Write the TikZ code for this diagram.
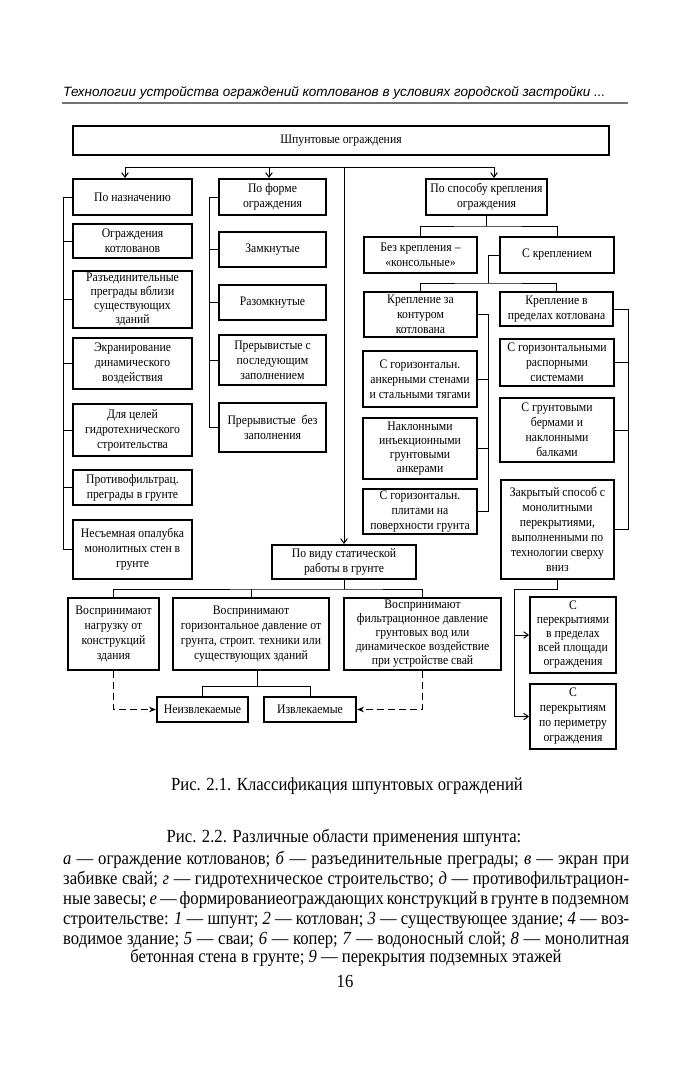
\documentclass[tikz,border=0pt]{standalone}
\usepackage{fontspec}
\setmainfont{Liberation Serif}[FakeStretch=0.9]
\newfontfamily\hdrfont{Liberation Sans}
\usetikzlibrary{arrows.meta,positioning}

\newcommand{\boxfont}{\fontsize{13}{15}\selectfont}
\newcommand{\capfont}{\fontsize{18.5}{20}\selectfont}

\begin{document}
\begin{tikzpicture}[x=1pt, y=-1pt,
  box/.style={draw, line width=2pt, align=center, font=\boxfont, inner sep=1pt},
  tight/.style={font=\fontsize{13}{14}\selectfont},
  colA/.style={box, minimum width=119pt},
  colB/.style={box, minimum width=107pt},
  colC/.style={box, minimum width=114pt},
  ln/.style={line width=1pt},
  ar/.style={ln, -{Straight Barb[length=4.5pt,width=6.5pt]}},
  dar/.style={ln, dash pattern=on 7pt off 4pt, -{Stealth[length=7pt,width=5.5pt]}},
]
\useasboundingbox[fill=white] (0,0) rectangle (691,1080);

% running head
\node[font={\hdrfont\itshape\fontsize{13.5}{16}\selectfont}, anchor=west, inner sep=0] (hdr) at (63,93)
  {Технологии устройства ограждений котлованов в условиях городской застройки ...};
\draw[black!55, line width=1.4pt] (62,103) -- (628,103);

\node[box, minimum width=536pt, minimum height=29pt] (root) at (341,140.5) {Шпунтовые ограждения};

% by purpose
\node[colA, minimum height=36pt] (naz) at (132.5,197) {По назначению};
\node[colA, minimum height=34pt] (ogr) at (132.5,241) {Ограждения\\котлованов};
\node[colA, tight, minimum height=57pt] (razd) at (132.5,299.5) {Разъединительные\\преграды вблизи\\существующих\\зданий};
\node[colA, minimum height=51pt] (ekr) at (132.5,363.5) {Экранирование\\динамического\\воздействия};
\node[colA, minimum height=52pt] (gidro) at (132.5,430) {Для целей\\гидротехнического\\строительства};
\node[colA, minimum height=35pt] (protiv) at (132.5,487.5) {Противофильтрац.\\преграды в грунте};
\node[colA, minimum height=59pt] (nesem) at (132.5,549.5) {Несъемная опалубка\\монолитных стен в\\грунте};

% by shape
\node[colB, minimum height=36pt] (forma) at (272.5,197) {По форме\\ограждения};
\node[colB, minimum height=35pt] (zamk) at (272.5,249.5) {Замкнутые};
\node[colB, minimum height=35pt] (razomk) at (272.5,302.5) {Разомкнутые};
\node[colB, minimum height=50pt] (prer1) at (272.5,360) {Прерывистые с\\последующим\\заполнением};
\node[colB, minimum height=49pt] (prer2) at (272.5,427.5) {Прерывистые~ без\\заполнения};

% by support
\node[box, minimum width=121pt, minimum height=36pt] (sposob) at (486.5,197) {По способу крепления\\ограждения};
\node[colC, minimum width=113pt, minimum height=36pt] (bez) at (420.5,255) {Без крепления –\\«консольные»};
\node[colC, minimum height=36pt] (skrep) at (557,255) {С креплением};
\node[colC, minimum width=113pt, minimum height=45pt] (zakont) at (420.5,314.5) {Крепление за\\контуром\\котлована};
\node[colC, minimum width=113pt, minimum height=34pt] (vpred) at (556.5,309) {Крепление в\\пределах котлована};
\node[colC, minimum height=56pt] (anker) at (420,379) {С горизонтальн.\\анкерными стенами\\и стальными тягами};
\node[colC, tight, minimum height=61pt] (naklon) at (420,448.5) {Наклонными\\инъекционными\\грунтовыми\\анкерами};
\node[colC, minimum height=45pt] (plity) at (420,511.5) {С горизонтальн.\\плитами на\\поверхности грунта};
\node[colC, minimum height=47pt] (raspor) at (557,362.5) {С горизонтальными\\распорными\\системами};
\node[colC, minimum height=64pt] (bermy) at (557,430) {С грунтовыми\\бермами и\\наклонными\\балками};
\node[colC, minimum width=113pt, minimum height=99pt] (zakryt) at (557.5,529.5) {Закрытый способ с\\монолитными\\перекрытиями,\\выполненными по\\технологии сверху\\вниз};
\node[box, tight, minimum width=86pt, minimum height=76pt] (sper1) at (573,635) {С\\перекрытиями\\в пределах\\всей площади\\ограждения};
\node[box, minimum width=86pt, minimum height=65pt] (sper2) at (573,716.5) {С\\перекрытиям\\по периметру\\ограждения};

% by static work
\node[box, minimum width=144pt, minimum height=34pt] (vid) at (344,562) {По виду статической\\работы в грунте};
\node[box, minimum width=91pt, minimum height=72pt] (nagr) at (113.5,634) {Воспринимают\\нагрузку от\\конструкций\\здания};
\node[box, minimum width=156pt, minimum height=72pt] (gorizd) at (251,634) {Воспринимают\\горизонтальное давление от\\грунта, строит. техники или\\существующих зданий};
\node[box, tight, minimum width=157pt, minimum height=72pt] (filtr) at (422.5,634) {Воспринимают\\фильтрационное давление\\грунтовых вод или\\динамическое воздействие\\при устройстве свай};
\node[box, minimum width=91pt, minimum height=25pt] (neizv) at (202.5,709.5) {Неизвлекаемые};
\node[box, minimum width=92pt, minimum height=25pt] (izv) at (310,709.5) {Извлекаемые};

% top bar
\coordinate (barL) at (125,167);
\coordinate (barR) at (494,167);
\draw[ln] (barL) -- (barR);
\draw[ar] (barL) -- (barL |- naz.north);
\draw[ar] ([xshift=-3.5pt]forma.north |- barL) -- ([xshift=-3.5pt]forma.north);
\draw[ar] (barR) -- (barR |- sposob.north);
\draw[ar] (vid.north |- barL) -- (vid.north);

% left brackets
\coordinate (brA) at (63,0);
\draw[ln] (naz.west) -- (naz.west -| brA) -- (nesem.west -| brA) -- (nesem.west);
\foreach \n in {ogr,razd,ekr,gidro,protiv}
  \draw[ln] (\n.west) -- (\n.west -| brA);
\coordinate (brB) at (209,0);
\draw[ln] (forma.west) -- (forma.west -| brB) -- (prer2.west -| brB) -- (prer2.west);
\foreach \n in {zamk,razomk,prer1}
  \draw[ln] (\n.west) -- (\n.west -| brB);

% support tree
\coordinate (j1) at (486.5,226);
\draw[ln] (sposob.south) -- (j1);
\draw[ln] (bez.north) |- (j1) -| (skrep.north);
\coordinate (j2) at (488,283);
\draw[ln] (skrep.west) -| (j2);
\draw[ln] (zakont.north) |- (j2) -| (vpred.north);
\coordinate (brC) at (488,0);
\draw[ln] (zakont.east) -- (zakont.east -| brC) -- (plity.east -| brC) -- (plity.east);
\foreach \n in {anker,naklon}
  \draw[ln] (\n.east) -- (\n.east -| brC);
\coordinate (brD) at (628,0);
\draw[ln] (vpred.east) -- (vpred.east -| brD) -- (zakryt.east -| brD) -- (zakryt.east);
\foreach \n in {raspor,bermy}
  \draw[ln] (\n.east) -- (\n.east -| brD);
\coordinate (j3) at (514,589);
\draw[ln] (zakryt.south) |- (j3);
\draw[ar] (j3) |- (sper1.west);
\draw[ar] (j3) |- (sper2.west);

% static work tree
\coordinate (j4) at (344,589);
\draw[ln] (vid.south) -- (j4);
\draw[ln] (nagr.north) |- (j4) -| (filtr.north);
\draw[ln] (gorizd.north) -- (gorizd.north |- j4);
\coordinate (j5) at (257,686);
\draw[ln] (gorizd.south -| j5) -- (j5);
\draw[ln] (neizv.north) |- (j5) -| (izv.north);
\draw[dar] (nagr.south) |- (neizv.west);
\draw[dar] (filtr.south) |- (izv.east);

% captions
\node[font=\capfont] (cap1) at (347,786) {Рис. 2.1. Классификация шпунтовых ограждений};
\node[font=\capfont] (cap2) at (344,838) {Рис. 2.2. Различные области применения шпунта:};
\node[font=\capfont, text width=566pt, align=justify, anchor=north west, inner sep=0] (legend) at (63,851)
  {\parfillskip=0pt
   \textit{а} — ограждение котлованов; \textit{б} — разъединительные преграды; \textit{в} — экран при\linebreak
   забивке свай; \textit{г} — гидротехническое строительство; \textit{д} — противофильтрацион-\linebreak
   ные завесы; \textit{е} — формированиеограждающих конструкций в~грунте в~подземном\linebreak
   строительстве: \textit{1} — шпунт; \textit{2} — котлован; \textit{3} — существующее здание; \textit{4} — воз-\linebreak
   водимое здание; \textit{5} — сваи; \textit{6} — копер; \textit{7} — водоносный слой; \textit{8} — монолитная\par};
\node[font=\capfont] (legend2) at (346,958) {бетонная стена в грунте; \textit{9} — перекрытия подземных этажей};
\node[font=\capfont] (pgnum) at (345,981) {16};
\end{tikzpicture}
\end{document}
